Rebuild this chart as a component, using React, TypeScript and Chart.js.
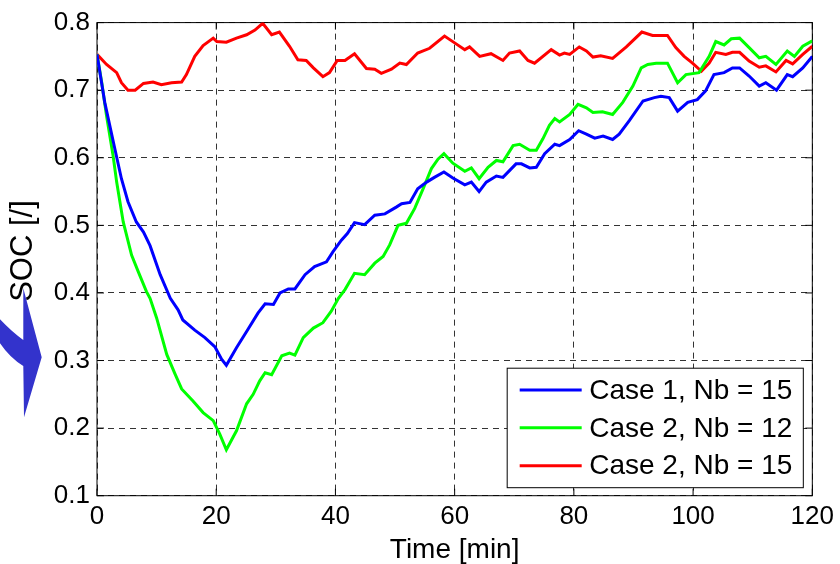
import React, { useEffect, useRef } from 'react';
import { Chart, registerables } from 'chart.js';

Chart.register(...registerables);

// ---- Data ----
const case1Time = [0, 1.3, 3.0, 4.1, 5.2, 6.6, 7.8, 8.9, 10.6, 12.3, 13.6, 14.4, 16.4, 18.1, 19.8, 20.9, 21.7, 23.4, 25.1, 27.0, 28.2, 29.6, 30.7, 32.1, 33.2, 34.9, 36.5, 38.5, 39.6, 41.0, 42.0, 43.2, 44.9, 46.6, 48.3, 50.2, 51.1, 52.5, 53.8, 55.3, 56.6, 58.2, 59.7, 61.7, 62.8, 64.1, 65.3, 67.0, 68.1, 70.3, 71.2, 72.6, 73.7, 75.1, 76.8, 77.6, 79.3, 80.8, 82.1, 83.5, 84.9, 86.5, 87.6, 89.3, 91.6, 93.5, 94.6, 96.0, 97.4, 99.1, 100.7, 102.1, 103.5, 105.2, 106.6, 107.8, 109.4, 111.1, 112.2, 114.0, 115.8, 116.7, 118.4, 120];
const case1Soc = [0.753, 0.682, 0.613, 0.569, 0.535, 0.505, 0.490, 0.470, 0.427, 0.392, 0.375, 0.360, 0.345, 0.334, 0.320, 0.302, 0.293, 0.319, 0.343, 0.370, 0.384, 0.383, 0.400, 0.406, 0.406, 0.427, 0.439, 0.446, 0.461, 0.478, 0.488, 0.504, 0.501, 0.515, 0.517, 0.527, 0.532, 0.534, 0.554, 0.564, 0.571, 0.579, 0.570, 0.560, 0.564, 0.550, 0.564, 0.573, 0.571, 0.591, 0.591, 0.585, 0.586, 0.606, 0.620, 0.618, 0.627, 0.640, 0.635, 0.629, 0.632, 0.627, 0.635, 0.655, 0.684, 0.689, 0.691, 0.689, 0.669, 0.682, 0.686, 0.699, 0.723, 0.726, 0.733, 0.733, 0.721, 0.706, 0.711, 0.700, 0.723, 0.720, 0.733, 0.750];

const case2Nb12Time = [0, 0.8, 1.6, 2.7, 3.3, 4.4, 5.8, 6.9, 8.3, 8.9, 10.0, 11.7, 13.1, 14.2, 16.1, 17.8, 19.5, 20.6, 21.7, 23.4, 25.1, 26.2, 27.3, 28.2, 29.3, 31.0, 32.3, 33.2, 34.6, 36.3, 37.9, 39.3, 40.5, 41.6, 43.2, 44.9, 46.6, 48.0, 49.1, 50.5, 51.9, 53.3, 54.7, 56.1, 57.2, 58.2, 59.7, 61.7, 62.8, 64.1, 65.6, 67.0, 68.1, 69.8, 70.9, 72.6, 73.7, 74.8, 75.9, 76.8, 77.6, 79.3, 80.7, 82.1, 83.2, 84.8, 86.5, 88.2, 89.9, 91.3, 92.4, 93.8, 95.7, 97.4, 98.8, 101.0, 102.7, 103.8, 105.2, 106.4, 107.8, 109.4, 111.1, 112.2, 113.9, 115.8, 117.0, 118.4, 120];
const case2Nb12Soc = [0.753, 0.711, 0.662, 0.603, 0.564, 0.505, 0.456, 0.432, 0.402, 0.392, 0.363, 0.309, 0.280, 0.258, 0.240, 0.223, 0.211, 0.191, 0.168, 0.196, 0.236, 0.250, 0.270, 0.282, 0.279, 0.307, 0.311, 0.308, 0.334, 0.348, 0.356, 0.373, 0.392, 0.405, 0.429, 0.427, 0.444, 0.454, 0.471, 0.500, 0.503, 0.525, 0.554, 0.584, 0.598, 0.606, 0.592, 0.580, 0.585, 0.569, 0.586, 0.596, 0.594, 0.618, 0.620, 0.611, 0.611, 0.628, 0.648, 0.658, 0.653, 0.664, 0.679, 0.674, 0.667, 0.668, 0.664, 0.682, 0.706, 0.733, 0.738, 0.740, 0.740, 0.711, 0.723, 0.726, 0.750, 0.772, 0.767, 0.776, 0.777, 0.763, 0.748, 0.750, 0.738, 0.758, 0.750, 0.765, 0.773];

const case2Nb15Time = [0, 1.6, 3.3, 4.1, 5.2, 6.4, 7.8, 9.4, 10.8, 12.5, 14.2, 15.0, 16.4, 17.8, 19.5, 20.1, 21.7, 23.4, 25.1, 26.5, 27.8, 29.3, 30.6, 32.3, 33.7, 35.1, 36.3, 37.9, 39.0, 40.3, 41.6, 43.2, 45.2, 46.6, 47.7, 49.4, 50.8, 51.9, 53.8, 55.8, 58.3, 60.0, 61.7, 62.5, 64.2, 66.1, 68.1, 69.2, 70.9, 72.3, 73.4, 76.2, 77.6, 78.4, 79.3, 80.9, 82.1, 83.2, 84.5, 86.5, 88.8, 91.4, 93.2, 95.7, 97.1, 98.5, 99.9, 101.4, 102.7, 103.8, 105.5, 106.6, 107.8, 109.4, 111.1, 112.2, 113.9, 115.6, 116.7, 118.4, 120];
const case2Nb15Soc = [0.753, 0.738, 0.726, 0.711, 0.700, 0.700, 0.710, 0.712, 0.708, 0.711, 0.712, 0.723, 0.750, 0.766, 0.777, 0.772, 0.771, 0.777, 0.782, 0.789, 0.799, 0.782, 0.786, 0.765, 0.745, 0.744, 0.733, 0.720, 0.726, 0.744, 0.744, 0.754, 0.732, 0.731, 0.725, 0.731, 0.740, 0.738, 0.755, 0.762, 0.780, 0.770, 0.760, 0.764, 0.750, 0.754, 0.744, 0.755, 0.758, 0.744, 0.740, 0.760, 0.752, 0.755, 0.753, 0.764, 0.758, 0.749, 0.751, 0.747, 0.764, 0.786, 0.781, 0.781, 0.763, 0.750, 0.740, 0.728, 0.740, 0.756, 0.753, 0.756, 0.756, 0.743, 0.734, 0.736, 0.727, 0.744, 0.739, 0.753, 0.765];

const seriesLabels = ['Case 1, Nb = 15', 'Case 2, Nb = 12', 'Case 2, Nb = 15'];
const seriesColors = ['#0000ff', '#00ff00', '#ff0000'];
const xTickValues = [0, 20, 40, 60, 80, 100, 120];
const yTickValues = [0.1, 0.2, 0.3, 0.4, 0.5, 0.6, 0.7, 0.8];
const xTitle = 'Time [min]';
const yTitle = 'SOC [/]';

const FONT = "'Liberation Sans', Arial, sans-serif";

const toPoints = (xs: number[], ys: number[]) => xs.map((x, i) => ({ x, y: ys[i] }));

const framePlugin = {
  id: 'matlabFrame',
  beforeDatasetsDraw(chart: any) {
    const { ctx, chartArea: a, scales } = chart;
    ctx.save();
    ctx.strokeStyle = '#000';
    ctx.lineWidth = 1;
    ctx.setLineDash([]);
    ctx.strokeRect(a.left, a.top, a.right - a.left, a.bottom - a.top);
    const tl = 7;
    ctx.beginPath();
    xTickValues.forEach((v) => {
      const px = scales.x.getPixelForValue(v);
      ctx.moveTo(px, a.bottom);
      ctx.lineTo(px, a.bottom - tl);
      ctx.moveTo(px, a.top);
      ctx.lineTo(px, a.top + tl);
    });
    yTickValues.forEach((v) => {
      const py = scales.y.getPixelForValue(v);
      ctx.moveTo(a.left, py);
      ctx.lineTo(a.left + tl, py);
      ctx.moveTo(a.right, py);
      ctx.lineTo(a.right - tl, py);
    });
    ctx.stroke();
    ctx.restore();
  },
  afterDraw(chart: any) {
    const { ctx, chartArea: a } = chart;
    ctx.save();
    // y axis title
    ctx.save();
    ctx.translate(22.5, 251);
    ctx.rotate(-Math.PI / 2);
    ctx.font = `31px ${FONT}`;
    ctx.fillStyle = '#000';
    ctx.textAlign = 'center';
    ctx.textBaseline = 'middle';
    ctx.fillText(yTitle, 0, 1);
    ctx.restore();
    // legend box
    ctx.font = `28px ${FONT}`;
    const textW = Math.max(...seriesLabels.map((s) => ctx.measureText(s).width));
    const padL = 12.5, sample = 62, gap = 7.5, padR = 11;
    const w = padL + sample + gap + textW + padR;
    const h = 119.5;
    const right = a.right - 9;
    const bottom = a.bottom - 8;
    const left = right - w;
    const top = bottom - h;
    ctx.fillStyle = '#fff';
    ctx.fillRect(left, top, w, h);
    ctx.strokeStyle = '#000';
    ctx.lineWidth = 1;
    ctx.strokeRect(left, top, w, h);
    chart.data.datasets.forEach((ds: any, i: number) => {
      const cy = top + 21.7 + i * 37.9;
      ctx.strokeStyle = ds.borderColor;
      ctx.lineWidth = 3;
      ctx.beginPath();
      ctx.moveTo(left + padL, cy);
      ctx.lineTo(left + padL + sample, cy);
      ctx.stroke();
      ctx.fillStyle = '#000';
      ctx.textAlign = 'left';
      ctx.textBaseline = 'middle';
      ctx.fillText(ds.label, left + padL + sample + gap, cy + 1);
    });
    // blue arrow decoration at the left
    ctx.fillStyle = '#3333cc';
    ctx.beginPath();
    ctx.moveTo(23.3, 288.3);
    ctx.lineTo(41.7, 357.3);
    ctx.lineTo(24, 417.3);
    ctx.lineTo(23.3, 366);
    ctx.quadraticCurveTo(10, 358, 0, 343.3);
    ctx.lineTo(0, 319.3);
    ctx.quadraticCurveTo(12, 332, 23.3, 340);
    ctx.closePath();
    ctx.fill();
    ctx.restore();
  },
};

export default function App() {
  const ref = useRef<HTMLCanvasElement | null>(null);
  useEffect(() => {
    if (!ref.current) return;
    const sets = [
      toPoints(case1Time, case1Soc),
      toPoints(case2Nb12Time, case2Nb12Soc),
      toPoints(case2Nb15Time, case2Nb15Soc),
    ];
    const chart = new Chart(ref.current, {
      type: 'line',
      data: {
        datasets: sets.map((d, i) => ({
          label: seriesLabels[i],
          data: d,
          borderColor: seriesColors[i],
          backgroundColor: seriesColors[i],
          borderWidth: 3,
          pointRadius: 0,
          tension: 0,
          fill: false,
        })),
      },
      options: {
        animation: false,
        responsive: true,
        maintainAspectRatio: false,
        layout: { padding: { left: 0, top: 19.5, right: 27, bottom: 0 } },
        plugins: { legend: { display: false }, tooltip: { enabled: false } },
        scales: {
          x: {
            type: 'linear',
            min: 0,
            max: 120,
            afterBuildTicks: (s: any) => { s.ticks = xTickValues.map((v) => ({ value: v })); },
            afterFit: (s: any) => { s.height = 68.3; },
            ticks: { color: '#000', font: { family: FONT, size: 26 }, padding: 6, maxRotation: 0 },
            grid: { color: 'rgba(0,0,0,0.8)', lineWidth: 1, drawTicks: false },
            border: { display: false, dash: [6, 5] },
            title: { display: true, text: xTitle, color: '#000', font: { family: FONT, size: 28 }, padding: { top: 0, bottom: -3 } },
          },
          y: {
            type: 'linear',
            min: 0.1,
            max: 0.8,
            afterBuildTicks: (s: any) => { s.ticks = yTickValues.map((v) => ({ value: v })); },
            afterFit: (s: any) => { s.width = 97; },
            ticks: { color: '#000', font: { family: FONT, size: 26 }, padding: 7, callback: (v: any) => Number(v).toFixed(1) },
            grid: { color: 'rgba(0,0,0,0.8)', lineWidth: 1, drawTicks: false },
            border: { display: false, dash: [6, 5] },
            title: { display: false, text: yTitle },
          },
        },
      },
      plugins: [framePlugin],
    });
    return () => chart.destroy();
  }, []);
  return (
    <div style={{ position: 'fixed', left: 0, top: 0, width: 840, height: 564, background: '#fff' }}>
      <canvas ref={ref} />
    </div>
  );
}
